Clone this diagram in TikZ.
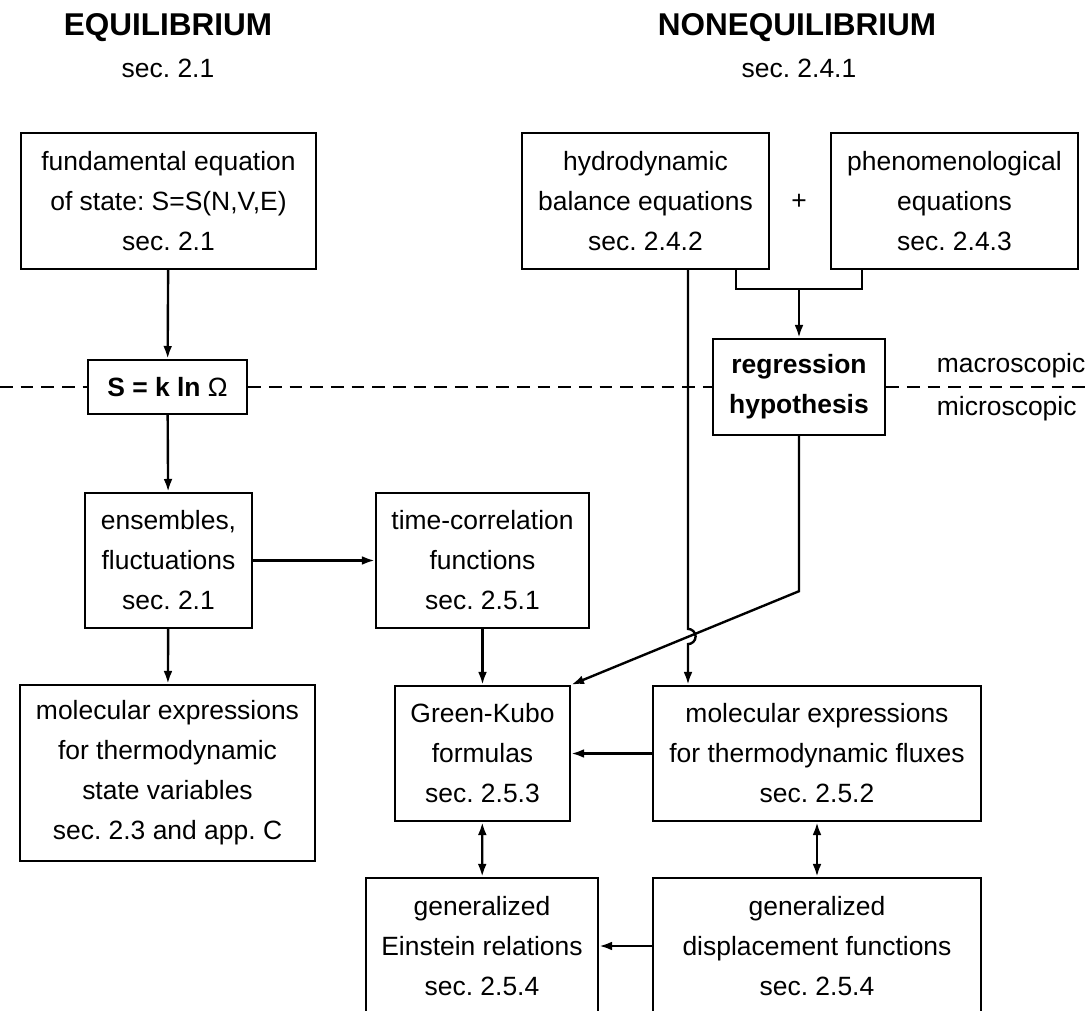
\documentclass[tikz,border=0pt]{standalone}
\usepackage{fontspec}
\setmainfont{Liberation Sans}
\usetikzlibrary{arrows.meta}
\frenchspacing
\begin{document}
\begin{tikzpicture}[x=0.025cm,y=-0.025cm,
    box/.style={draw,line width=1.7pt,align=center,inner sep=0pt,
      font=\fontsize{18.8}{28.45}\selectfont},
    lbl/.style={align=center,font=\fontsize{18.8}{28.45}\selectfont},
    title/.style={font=\fontsize{22.4}{26}\selectfont\bfseries},
    link/.style={line width=1.7pt,->,>={Latex[length=3.2mm,width=2.2mm]}}]
  \useasboundingbox (0,0) rectangle (1088,1011);
  \clip (0,0) rectangle (1088,1011);
  % headings
  \node[title] (eqtitle) at (168,28) {EQUILIBRIUM};
  \node[lbl] (eqsec) at (168,68) {sec. 2.1};
  \node[title] (neqtitle) at (797,28) {NONEQUILIBRIUM};
  \node[lbl] (neqsec) at (799,68) {sec. 2.4.1};
  % equilibrium column
  \node[box,minimum width=7.375cm,minimum height=3.4cm] (fund) at (168.5,201)
    {fundamental equation\\of state: S=S(N,V,E)\\sec. 2.1};
  \node[box,minimum width=3.975cm,minimum height=1.35cm] (boltz) at (167.5,387)
    {\textbf{S = k ln \textmd{Ω}}};
  \node[box,minimum width=4.175cm,minimum height=3.375cm] (ens) at (168.5,560.5)
    {ensembles,\\fluctuations\\sec. 2.1};
  \node[box,minimum width=7.375cm,minimum height=4.4cm] (molstate) at (167.5,773)
    {molecular expressions\\for thermodynamic\\state variables\\sec. 2.3 and app. C};
  % nonequilibrium side
  \node[box,minimum width=6.175cm,minimum height=3.4cm] (hydro) at (645.5,201)
    {hydrodynamic\\balance equations\\sec. 2.4.2};
  \node[lbl] (plus) at (799,202) {+};
  \node[box,minimum width=6.175cm,minimum height=3.4cm] (phen) at (954.5,201)
    {phenomenological\\equations\\sec. 2.4.3};
  \node[box,minimum width=4.3cm,minimum height=2.4cm] (regr) at (799,387)
    {\textbf{regression}\\\textbf{hypothesis}};
  \node[lbl,anchor=west] (macro) at (932,366) {macroscopic};
  \node[lbl,anchor=west] (micro) at (932,409) {microscopic};
  \node[box,minimum width=5.325cm,minimum height=3.375cm] (tcf) at (482.5,560.5)
    {time-correlation\\functions\\sec. 2.5.1};
  \node[box,minimum width=4.375cm,minimum height=3.375cm] (gk) at (482.5,753.5)
    {Green-Kubo\\formulas\\sec. 2.5.3};
  \node[box,minimum width=8.2cm,minimum height=3.375cm] (molflux) at (817,753.5)
    {molecular expressions\\for thermodynamic fluxes\\sec. 2.5.2};
  \node[box,minimum width=5.8cm,minimum height=3.4cm] (einst) at (482,946)
    {generalized\\Einstein relations\\sec. 2.5.4};
  \node[box,minimum width=8.2cm,minimum height=3.4cm] (displ) at (817,946)
    {generalized\\displacement functions\\sec. 2.5.4};
  % macro/micro border
  \coordinate (dashl) at (0,387);
  \coordinate (dashr) at (1088,387);
  \draw[line width=0.8pt,dash pattern=on 9pt off 5.7pt] (dashl) -- (boltz.west);
  \draw[line width=0.8pt,dash pattern=on 9pt off 5.7pt] (boltz.east) -- (regr.west);
  \draw[line width=0.8pt,dash pattern=on 9pt off 5.7pt] (regr.east) -- (dashr);
  % arrows
  \draw[link] (fund) -- (boltz);
  \draw[link] (boltz) -- (ens);
  \draw[link] (ens) -- (molstate);
  \draw[link] (ens) -- (tcf);
  \draw[link] (tcf) -- (gk);
  \draw[link] (molflux) -- (gk);
  \draw[link,<->] (gk) -- (einst);
  \draw[link,<->] (molflux) -- (displ);
  \draw[link] (displ) -- (einst);
  \coordinate (join) at (799,289);
  \draw[line width=1.7pt] ([xshift=-0.85cm]hydro.south east) |- (join)
    -| ([xshift=0.8cm]phen.south west);
  \draw[link] (join) -- (regr);
  \coordinate (hop) at (688,636.5);
  \draw[link] (hop |- hydro.south) -- ([yshift=0.19cm]hop)
    arc[start angle=90,end angle=-90,radius=0.19cm] -- (hop |- molflux.north);
  \draw[link] (regr.south) -- ++(0,155) -- (gk.north east);
\end{tikzpicture}
\end{document}
